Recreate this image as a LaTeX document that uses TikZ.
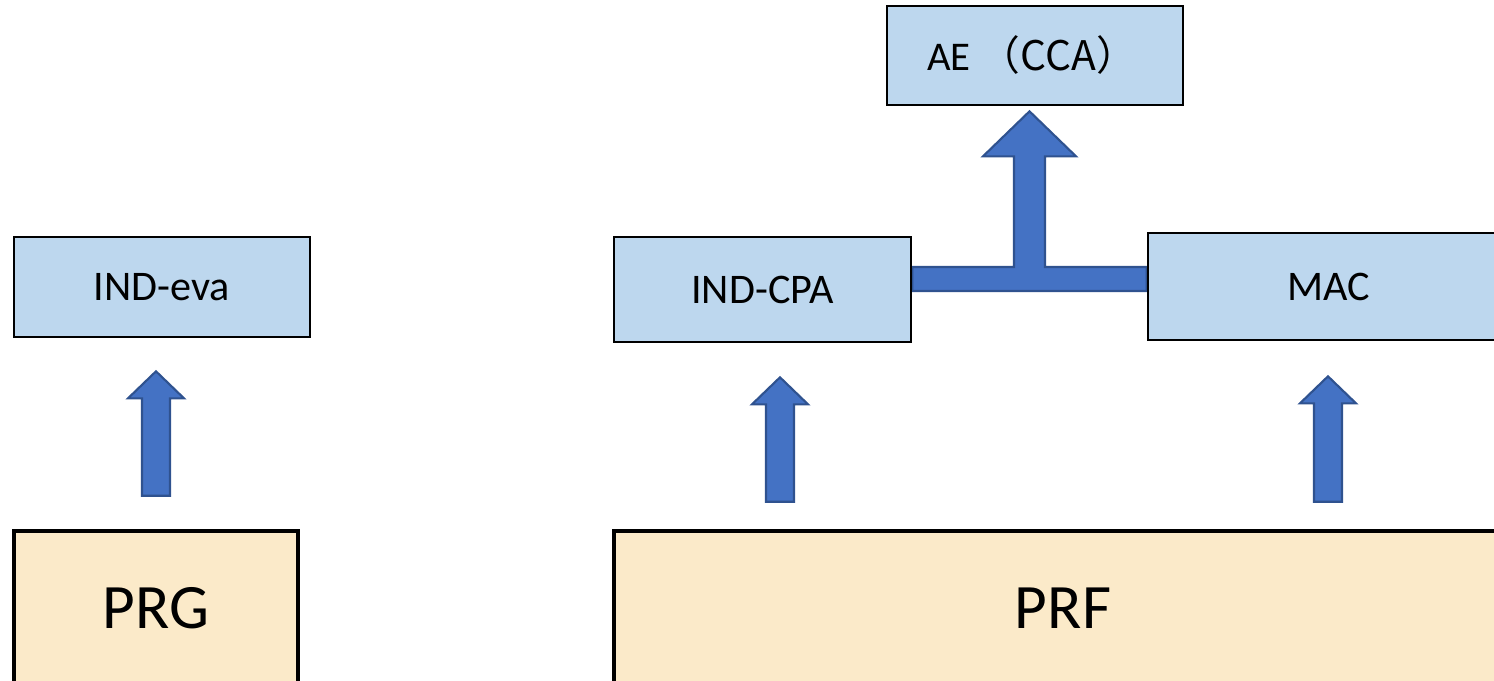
\documentclass[tikz,border=0pt]{standalone}
\usepackage{fontspec}
\setmainfont{Carlito}
\newfontfamily\cjk{Noto Sans CJK SC}
\usetikzlibrary{calc,positioning,backgrounds}
\definecolor{boxblue}{HTML}{BDD7EE}
\definecolor{boxcream}{HTML}{FBEAC9}
\definecolor{arrfill}{HTML}{4472C4}
\definecolor{arredge}{HTML}{2F528F}
\tikzset{goal/.style={draw=black,line width=.75pt,fill=boxblue,inner sep=0pt,font=\fontsize{12}{14}\selectfont},
  prim/.style={draw=black,line width=1.3pt,fill=boxcream,inner sep=0pt,minimum height=1.54cm,font=\fontsize{18}{22}\selectfont},
  barrow/.style={fill=arrfill,draw=arredge,line width=.6pt,line join=miter}}
% block arrow pointing up, from #1 (foot) to #2 (tip)
\newcommand{\blockup}[2]{%
  \draw[barrow] let \p1=(#1),\p2=(#2) in
    (\x1-.14cm,\y1) -- (\x1+.14cm,\y1) -- (\x1+.14cm,\y2-.27cm) -- (\x1+.28cm,\y2-.27cm)
    -- (\x1,\y2) -- (\x1-.28cm,\y2-.27cm) -- (\x1-.14cm,\y2-.27cm) -- cycle;}

\begin{document}
\begin{tikzpicture}
\clip (0,0) rectangle (14.94,6.80);
% primitives
\node[prim,minimum width=2.84cm] (prg) at (1.56,.72) {PRG};
\node[prim,minimum width=8.98cm] (prf) at (10.63,.72) {PRF};
% security notions
\node[goal,minimum width=2.96cm,minimum height=1cm] (ideva) at (1.62,3.93) {IND-eva};
\node[goal,minimum width=2.97cm,minimum height=1.05cm] (cpa) at (7.625,3.905) {IND-CPA};
\node[goal,minimum width=3.62cm,minimum height=1.07cm] (mac) at (13.29,3.935) {MAC};
\node[goal,minimum width=2.96cm,minimum height=.99cm,font=\fontsize{11.6}{13}\selectfont] (ae) at (10.35,6.245) {AE \cjk{（}CCA\cjk{）}\hspace*{.06cm}};
% arrow ends
\coordinate (g0) at ($(prg.north)+(0,.33)$);
\coordinate (g1) at ($(ideva.south)+(0,-.33)$);
\coordinate (f0) at ($(prf.north -| cpa.south)+(.175,.27)$);
\coordinate (f1) at ($(cpa.south)+(.175,-.34)$);
\coordinate (m0) at ($(prf.north -| mac.south)+(-.01,.27)$);
\coordinate (m1) at ($(mac.south)+(-.01,-.35)$);
\coordinate (tj) at (10.295,4.01);
\coordinate (ttip) at ($(ae.south)+(-.055,-.05)$);
\blockup{g0}{g1}
\blockup{f0}{f1}
\blockup{m0}{m1}
% IND-CPA + MAC => AE
\begin{scope}[on background layer]
\draw[barrow] let \p1=(cpa.east),\p2=(mac.west),\p3=(tj),\p4=(ttip) in
  (\x1,\y3-.12cm) -- (\x2,\y3-.12cm) -- (\x2,\y3+.12cm) -- (\x4+.155cm,\y3+.12cm)
  -- (\x4+.155cm,\y4-.45cm) -- (\x4+.465cm,\y4-.45cm) -- (\x4,\y4) -- (\x4-.465cm,\y4-.45cm)
  -- (\x4-.155cm,\y4-.45cm) -- (\x4-.155cm,\y3+.12cm) -- (\x1,\y3+.12cm) -- cycle;
\end{scope}
\end{tikzpicture}
\end{document}
